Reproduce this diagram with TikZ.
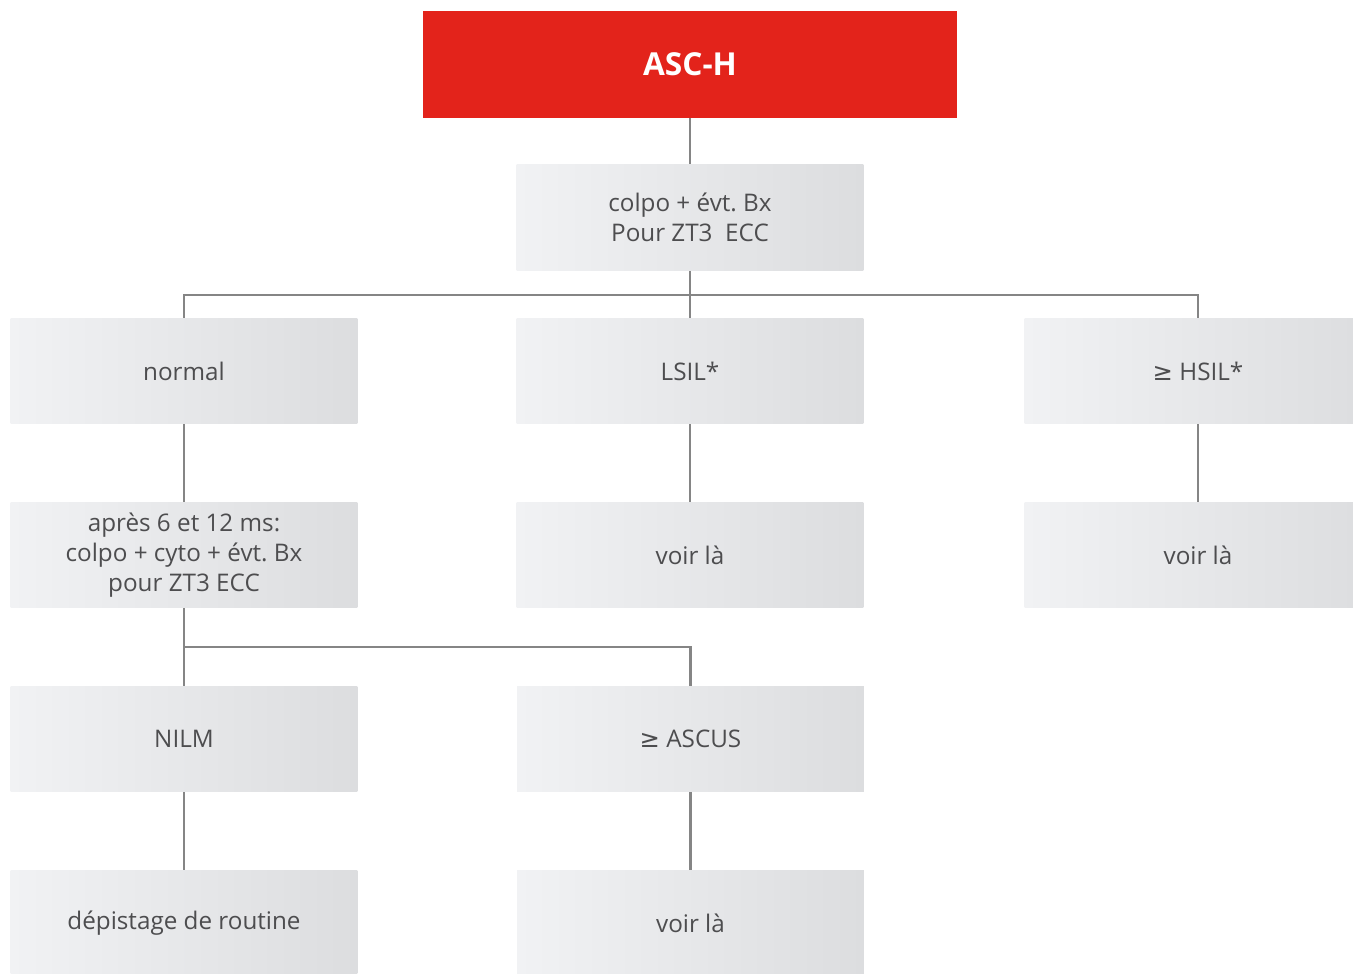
\documentclass[tikz,border=0pt]{standalone}
\usepackage{fontspec}
\setmainfont{Open Sans}
\newfontfamily\symbfont{DejaVu Sans}
\usepackage{tikz}
\frenchspacing

\definecolor{ascred}{HTML}{E3231B}
\definecolor{boxleft}{HTML}{F1F2F4}
\definecolor{boxright}{HTML}{DCDDDF}
\definecolor{boxtext}{HTML}{4D4D4F}
\definecolor{linegray}{HTML}{858585}

\tikzset{
  box/.style={minimum width=6.94cm, minimum height=2.12cm, inner sep=0pt,
    left color=boxleft, right color=boxright, text=boxtext, align=center,
    font=\fontsize{13.8}{17}\selectfont},
  headbox/.style={minimum width=10.68cm, minimum height=2.14cm, inner sep=0pt,
    fill=ascred, text=white, font=\fontsize{18}{20}\selectfont\bfseries},
  link/.style={draw=linegray, line width=1.6pt},
}
\newcommand{\atleast}{{\symbfont ≥}}

\begin{document}
\begin{tikzpicture}[x=0.02cm, y=-0.02cm]
    \useasboundingbox (0,0) rectangle (1353,974);
    \clip (0,0) rectangle (1353,974);

    % boxes
    \node[headbox] (asch) at (690,64.5) {\raisebox{-1.5pt}{ASC-H}};
    \node[box] (colpo) at (690,217.5) {colpo + évt. Bx\\Pour ZT3\ \ ECC};

    \node[box] (normal) at (184,371) {normal};
    \node[box] (lsil) at (690,371) {LSIL*};
    \node[box] (hsil) at (1198,371) {\atleast\ HSIL*};

    \node[box] (apres) at (184,555) {après 6 et 12 ms:\\colpo + cyto + évt. Bx\\pour ZT3 ECC};
    \node[box] (voirlsil) at (690,555) {voir là};
    \node[box] (voirhsil) at (1198,555) {voir là};

    \node[box] (nilm) at (184,739) {NILM};
    \node[box] (ascus) at (690.5,739) {\atleast\ ASCUS};

    \node[box] (routine) at (184,923) {dépistage de routine};
    \node[box] (voirascus) at (690.5,923) {voir là};

    % links
    \coordinate (fork1) at (690,295);
    \coordinate (fork2) at (184,647);
    \draw[link] (asch.south) -- (colpo.north);
    \draw[link] (colpo.south) -- (lsil.north);
    \draw[link] (normal.north) |- (fork1) -| (hsil.north);
    \draw[link] (normal) -- (apres);
    \draw[link] (lsil) -- (voirlsil);
    \draw[link] (hsil) -- (voirhsil);
    \draw[link] (apres) -- (nilm);
    \draw[link] (fork2) -| (ascus.north);
    \draw[link] (nilm) -- (routine);
    \draw[link] (ascus) -- (voirascus);
\end{tikzpicture}
\end{document}
